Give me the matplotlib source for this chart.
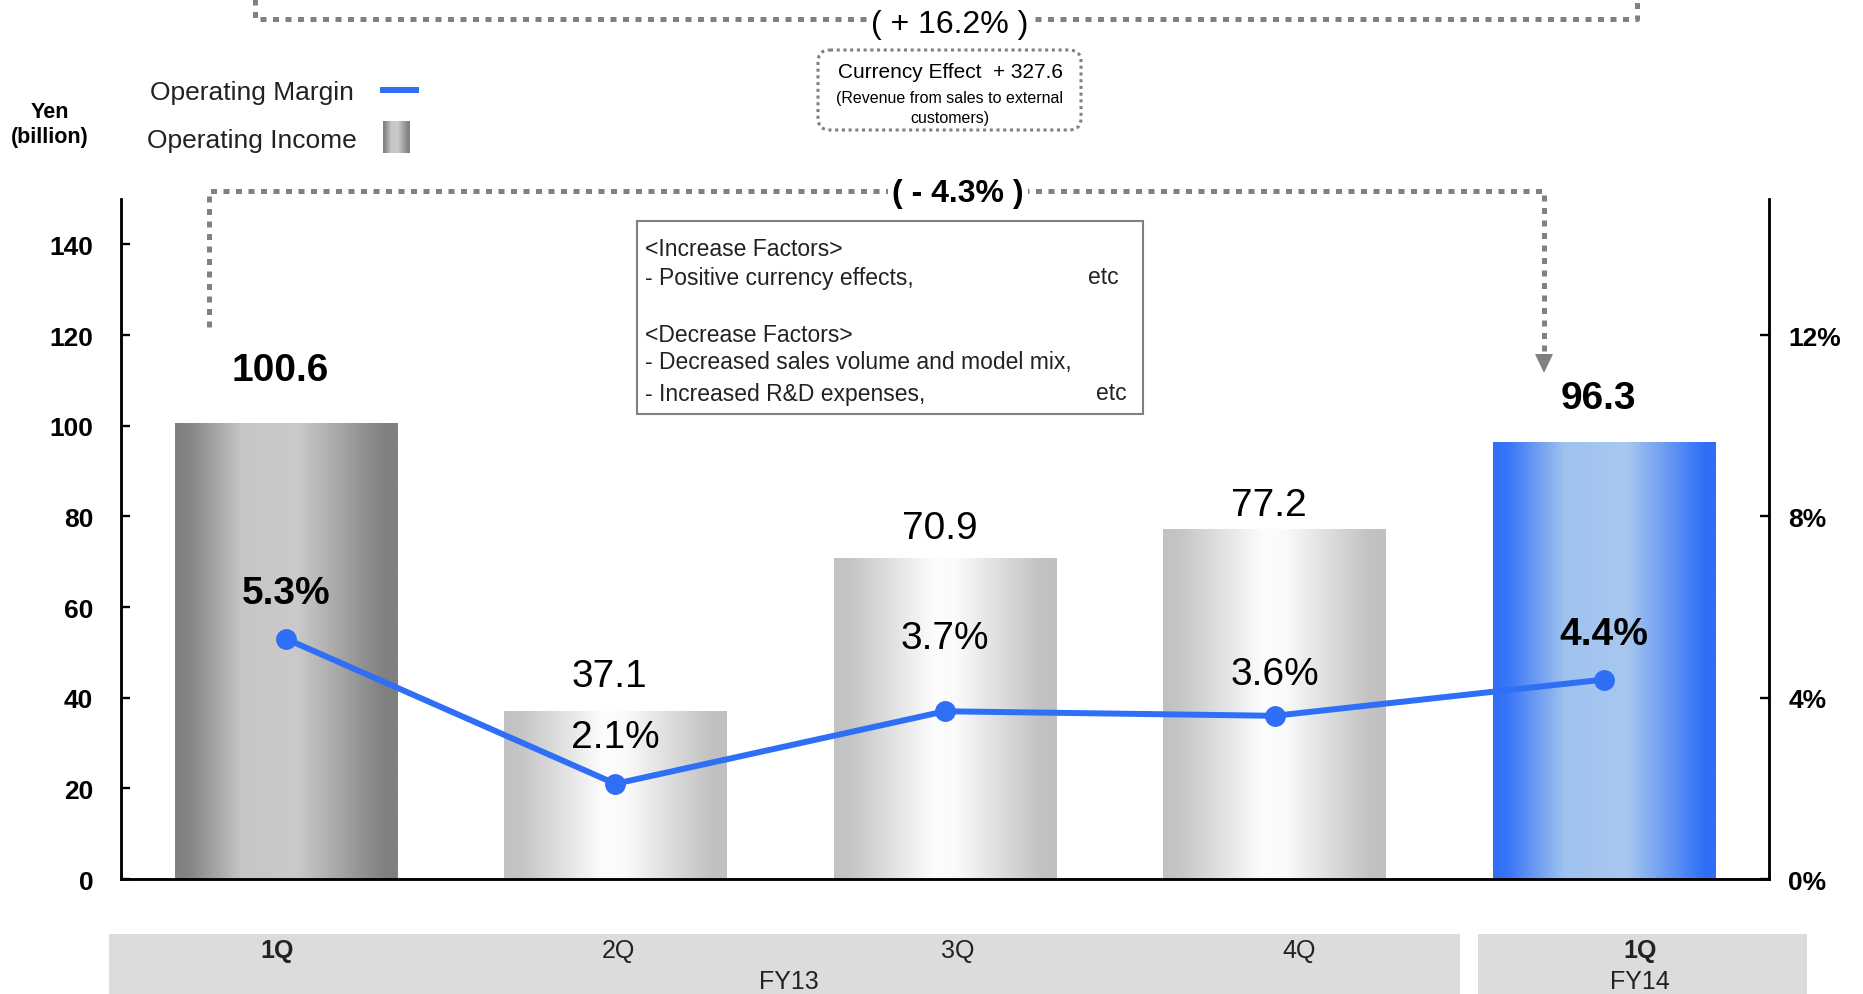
import numpy as np
import matplotlib
matplotlib.use("Agg")
import matplotlib.pyplot as plt
from matplotlib.colors import LinearSegmentedColormap
from matplotlib.patches import Rectangle, FancyBboxPatch, Polygon
from matplotlib.lines import Line2D

plt.rcParams['font.family'] = ['Liberation Sans', 'DejaVu Sans']

# ---- data -------------------------------------------------------------
quarters = ["1Q", "2Q", "3Q", "4Q", "1Q"]
quarter_bold = [True, False, False, False, True]
fiscal_years = ["FY13", "FY14"]
operating_income = [100.6, 37.1, 70.9, 77.2, 96.3]      # Yen (billion)
operating_margin = [5.3, 2.1, 3.7, 3.6, 4.4]            # %
income_ticks = [0, 20, 40, 60, 80, 100, 120, 140]
margin_ticks = [0, 4, 8, 12]
margin_tick_labels = ["0%", "4%", "8%", "12%"]

# ---- styling ----------------------------------------------------------
BLUE = "#2f6ff5"
DOT_GREY = "#808080"
bar_style = ["dark", "light", "light", "light", "blue"]
label_bold = [True, False, False, False, True]
income_label_dy = [38, 25, 21, 17, 32]     # points above bar top
margin_label_dy = [33, 34, 53, 30, 33]     # points above marker

gradients = {
    "dark": LinearSegmentedColormap.from_list("dark", [
        (0.0, "#808080"), (0.06, "#848484"), (0.30, "#c6c6c6"),
        (0.55, "#cacaca"), (0.94, "#808080"), (1.0, "#808080")]),
    "light": LinearSegmentedColormap.from_list("light", [
        (0.0, "#c2c2c2"), (0.08, "#c6c6c6"), (0.45, "#fdfdfd"),
        (0.55, "#fafafa"), (0.93, "#c2c2c2"), (1.0, "#c0c0c0")]),
    "blue": LinearSegmentedColormap.from_list("blue", [
        (0.0, "#2f6ff8"), (0.06, "#3774f6"), (0.32, "#9fc2ef"),
        (0.60, "#a8c8ef"), (0.95, "#2f6ff8"), (1.0, "#2f6ff8")]),
}
ramp = np.linspace(0, 1, 256).reshape(1, -1)

W, H = 1863, 995
fig = plt.figure(figsize=(W / 100, H / 100), dpi=100)
ax = fig.add_axes([121 / W, 1 - 880 / H, (1769 - 121) / W, (880 - 200) / H])

x = np.arange(len(quarters))
bars = ax.bar(x, operating_income, width=0.675, color="none", edgecolor="none", zorder=1)
for rect, style in zip(bars, bar_style):
    x0, w, h = rect.get_x(), rect.get_width(), rect.get_height()
    im = ax.imshow(ramp, cmap=gradients[style], extent=[x0, x0 + w, 0, h],
                   aspect="auto", interpolation="bicubic", zorder=1)
    im.set_clip_path(rect)

ax.set_xlim(-0.5, len(quarters) - 0.5)
ax.set_ylim(0, 150)
ax.set_xticks([])
ax.set_yticks(income_ticks, [str(t) for t in income_ticks],
              fontsize=19, fontweight="bold")
ax.tick_params(axis="y", direction="in", length=6.5, width=1.7, pad=20)
for side in ("left", "bottom", "right"):
    ax.spines[side].set_linewidth(1.8)
ax.spines["top"].set_visible(False)

for xi, v, b, dy in zip(x, operating_income, label_bold, income_label_dy):
    ax.annotate(f"{v:.1f}", (xi, v), xytext=(-4, dy), textcoords="offset points",
                ha="center", va="center", fontsize=28,
                fontweight="bold" if b else "normal")

ax2 = ax.twinx()
ax2.plot(x, operating_margin, color=BLUE, lw=4.3, marker="o", ms=14,
         solid_capstyle="round", zorder=3)
ax2.set_ylim(0, 15)
ax2.set_yticks(margin_ticks, margin_tick_labels, fontsize=19, fontweight="bold")
ax2.tick_params(axis="y", direction="in", length=6.5, width=1.7, pad=14)
for side in ("left", "bottom", "right"):
    ax2.spines[side].set_linewidth(1.8)
ax2.spines["top"].set_visible(False)
for xi, v, b, dy in zip(x, operating_margin, label_bold, margin_label_dy):
    ax2.annotate(f"{v:.1f}%", (xi, v), xytext=(0, dy), textcoords="offset points",
                 ha="center", va="center", fontsize=28,
                 fontweight="bold" if b else "normal")

# ---- overlay for annotations, legend and period band (pixel coords) ---
ov = fig.add_axes([0, 0, 1, 1], zorder=5)
ov.patch.set_alpha(0)
ov.axis("off")

dotted = dict(color=DOT_GREY, lw=3.6, linestyle=(0, (1.2, 1.3)),
              dash_capstyle="butt", solid_joinstyle="miter")

# year-over-year revenue bracket
ov.add_line(Line2D([255, 255, 1637, 1637], [0, 20, 20, 0], **dotted))
ov.text(950, 25, "( + 16.2% )", ha="center", va="center", fontsize=23,
        bbox=dict(boxstyle="square,pad=0.12", fc="white", ec="none"))
box = FancyBboxPatch((818, 51), 263, 80, boxstyle="round,pad=0,rounding_size=12",
                     fc="white", ec=DOT_GREY, lw=2.2, linestyle=(0, (1, 1.2)))
ov.add_patch(box)
ov.text(950, 73, "Currency Effect  + 327.6", ha="center", va="center", fontsize=15)
ov.text(950, 98, "(Revenue from sales to external", ha="center", va="center", fontsize=11.5)
ov.text(950, 119, "customers)", ha="center", va="center", fontsize=11.5)

# operating income bracket with arrow
ov.add_line(Line2D([209, 209, 1544, 1544], [328, 192, 192, 356], **dotted))
ov.add_patch(Polygon([[1535, 355], [1553, 355], [1544, 374]], closed=True,
                     fc=DOT_GREY, ec="none"))
ov.text(958, 194, "( - 4.3% )", ha="center", va="center", fontsize=23,
        fontweight="bold",
        bbox=dict(boxstyle="square,pad=0.12", fc="white", ec="none"))

# factors box
ov.add_patch(Rectangle((637, 222), 506, 193, fc="white", ec="#808080", lw=1.5))
factor_lines = ["<Increase Factors>", "- Positive currency effects,", "",
                "<Decrease Factors>", "- Decreased sales volume and model mix,",
                "- Increased R&D expenses,"]
for txt, yy in zip(factor_lines, [249, 278, 0, 335, 363, 394]):
    if txt:
        ov.text(645, yy, txt, ha="left", va="center", fontsize=16.5, color="#222222")
ov.text(1119, 278, "etc", ha="right", va="center", fontsize=16.5, color="#222222")
ov.text(1127, 394, "etc", ha="right", va="center", fontsize=16.5, color="#222222")

# legend
ov.text(150, 93, "Operating Margin", ha="left", va="center", fontsize=19, color="#222222")
ov.add_line(Line2D([380, 419], [91, 91], color=BLUE, lw=4.3, solid_capstyle="butt"))
ov.text(147, 141, "Operating Income", ha="left", va="center", fontsize=19, color="#222222")
ov.imshow(ramp, cmap=gradients["dark"], extent=[383, 410, 154, 122],
          aspect="auto", interpolation="bicubic")
ov.text(50, 112, "Yen", ha="center", va="center", fontsize=15.5, fontweight="bold")
ov.text(50, 138, "(billion)", ha="center", va="center", fontsize=15.5, fontweight="bold")

# period band
ov.add_patch(Rectangle((109, 935), 1351, 62, fc="#dcdcdc", ec="none"))
ov.add_patch(Rectangle((1478, 935), 329, 62, fc="#dcdcdc", ec="none"))
for q, b, qx in zip(quarters, quarter_bold, [277, 618, 958, 1299, 1640]):
    ov.text(qx, 951, q, ha="center", va="center", fontsize=18,
            fontweight="bold" if b else "normal", color="#222222")
for fy, fx in zip(fiscal_years, [789, 1640]):
    ov.text(fx, 982, fy, ha="center", va="center", fontsize=18, color="#222222")

ov.set_xlim(0, W)
ov.set_ylim(H, 0)

fig.savefig("out.png", dpi=100, facecolor="white")
